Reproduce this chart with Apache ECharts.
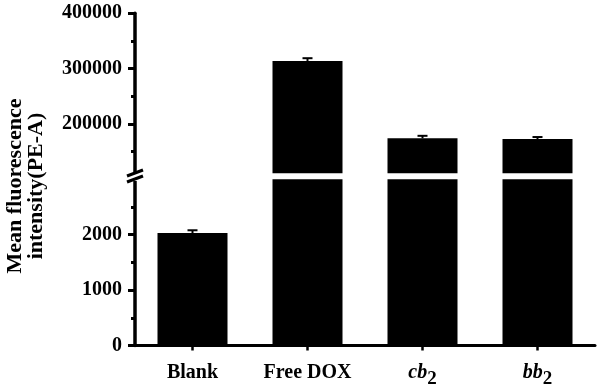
<!DOCTYPE html>
<html>
<head>
<meta charset="utf-8">
<script src="https://cdn.jsdelivr.net/npm/echarts@6/dist/echarts.min.js"></script>
<style>html,body{margin:0;padding:0;background:#fff}#c{width:600px;height:391px}</style>
</head>
<body>
<div id="c"></div>
<script>
// ---- data ----
const categories = ['Blank', 'Free DOX', 'cb2', 'bb2'];
const meanValues = [2030, 313900, 174200, 173000];
const errValues = [50, 5000, 4500, 3500];
const lowerTicks = [0, 1000, 2000];
const lowerMinorTicks = [500, 1500, 2500];
const upperTicks = [200000, 300000, 400000];
const upperMinorTicks = [150000, 250000, 350000];
const lowerRange = [0, 3000];
const upperRange = [111000, 400000];

const FONT = '"Liberation Serif", "Times New Roman", serif';
const chart = echarts.init(document.getElementById('c'), null, { renderer: 'canvas' });

const AX_X = 135;
const lowerGrid = { left: AX_X, right: 5, top: 179.3, bottom: 391 - 345.5 };
const upperGrid = { left: AX_X, right: 5, top: 13.3, bottom: 391 - 173.3 };

function mainY(gridIndex, range, ticks) {
  return {
    type: 'value', gridIndex, min: range[0], max: range[1], position: 'left',
    axisLine: { show: true, lineStyle: { color: '#000', width: 3.5 } },
    axisTick: { show: true, customValues: ticks, length: 7, lineStyle: { color: '#000', width: 3 } },
    axisLabel: {
      customValues: ticks, margin: 13, color: '#000', fontFamily: FONT, fontWeight: 'bold', fontSize: 20,
      formatter: v => String(v)
    },
    splitLine: { show: false }
  };
}
function minorY(gridIndex, range, ticks) {
  return {
    type: 'value', gridIndex, min: range[0], max: range[1], position: 'left', offset: 0,
    axisLine: { show: false, onZero: false },
    axisTick: { show: true, customValues: ticks, length: 4, lineStyle: { color: '#000', width: 3 } },
    axisLabel: { show: false },
    splitLine: { show: false }
  };
}

const lowerErr = [], upperErr = [];
meanValues.forEach((v, i) => {
  (v > lowerRange[1] ? upperErr : lowerErr).push([i, v, errValues[i]]);
});
const upperValues = meanValues.map(v => (v > lowerRange[1] ? v : '-'));

function renderErr(params, api) {
  const i = api.value(0), v = api.value(1), e = api.value(2);
  const p0 = api.coord([i, v]);
  const p1 = api.coord([i, v + e]);
  const hw = 5;
  return {
    type: 'group',
    children: [
      { type: 'line', shape: { x1: p0[0], y1: p0[1], x2: p1[0], y2: p1[1] }, style: { stroke: '#000', lineWidth: 2 } },
      { type: 'line', shape: { x1: p1[0] - hw, y1: p1[1], x2: p1[0] + hw, y2: p1[1] }, style: { stroke: '#000', lineWidth: 2 } }
    ]
  };
}

const option = {
  animation: false,
  backgroundColor: '#fff',
  grid: [lowerGrid, upperGrid],
  xAxis: [
    {
      type: 'category', gridIndex: 0, data: categories,
      axisLine: { show: true, lineStyle: { color: '#000', width: 3 } },
      axisTick: { show: true, alignWithLabel: true, length: 5, lineStyle: { color: '#000', width: 2.5 } },
      axisLabel: {
        margin: 17, color: '#000', fontFamily: FONT, fontWeight: 'bold', fontSize: 20,
        formatter: function (name) {
          const m = /^([a-z]+)(\d)$/.exec(name);
          return m ? '{i|' + m[1] + '}{s|' + m[2] + '}' : name;
        },
        rich: {
          i: { fontFamily: FONT, fontStyle: 'italic', fontWeight: 'bold', fontSize: 20, color: '#000', verticalAlign: 'top', lineHeight: 20 },
          s: { fontFamily: FONT, fontWeight: 'bold', fontSize: 19, color: '#000', verticalAlign: 'top', lineHeight: 20, padding: [7, 0, 0, 0] }
        }
      }
    },
    {
      type: 'category', gridIndex: 1, data: categories,
      axisLine: { show: false }, axisTick: { show: false }, axisLabel: { show: false }
    }
  ],
  yAxis: [
    mainY(0, lowerRange, lowerTicks),
    minorY(0, lowerRange, lowerMinorTicks),
    mainY(1, upperRange, upperTicks),
    minorY(1, upperRange, upperMinorTicks)
  ],
  series: [
    { type: 'bar', xAxisIndex: 0, yAxisIndex: 0, data: meanValues, barWidth: 70, itemStyle: { color: '#000' }, clip: true },
    { type: 'bar', xAxisIndex: 1, yAxisIndex: 2, data: upperValues, barWidth: 70, itemStyle: { color: '#000' }, clip: true },
    { type: 'custom', xAxisIndex: 0, yAxisIndex: 0, data: lowerErr, renderItem: renderErr, clip: false },
    { type: 'custom', xAxisIndex: 1, yAxisIndex: 2, data: upperErr, renderItem: renderErr, clip: false }
  ],
  graphic: [
    {
      type: 'text', x: 26, y: 186, rotation: Math.PI / 2,
      style: {
        text: 'Mean fluorescence\nintensity(PE-A)', fill: '#000',
        font: 'bold 22px ' + FONT, lineHeight: 21,
        textAlign: 'center', textVerticalAlign: 'middle'
      }
    },
    // axis break marks
    { type: 'rect', shape: { x: AX_X - 3, y: 172, width: 6, height: 9 }, style: { fill: '#fff' }, z: 100 },
    { type: 'line', shape: { x1: AX_X - 8, y1: 176, x2: AX_X + 8, y2: 170 }, style: { stroke: '#000', lineWidth: 3 }, z: 101 },
    { type: 'line', shape: { x1: AX_X - 8, y1: 182, x2: AX_X + 8, y2: 176 }, style: { stroke: '#000', lineWidth: 3 }, z: 101 }
  ]
};
chart.setOption(option);
</script>
</body>
</html>
